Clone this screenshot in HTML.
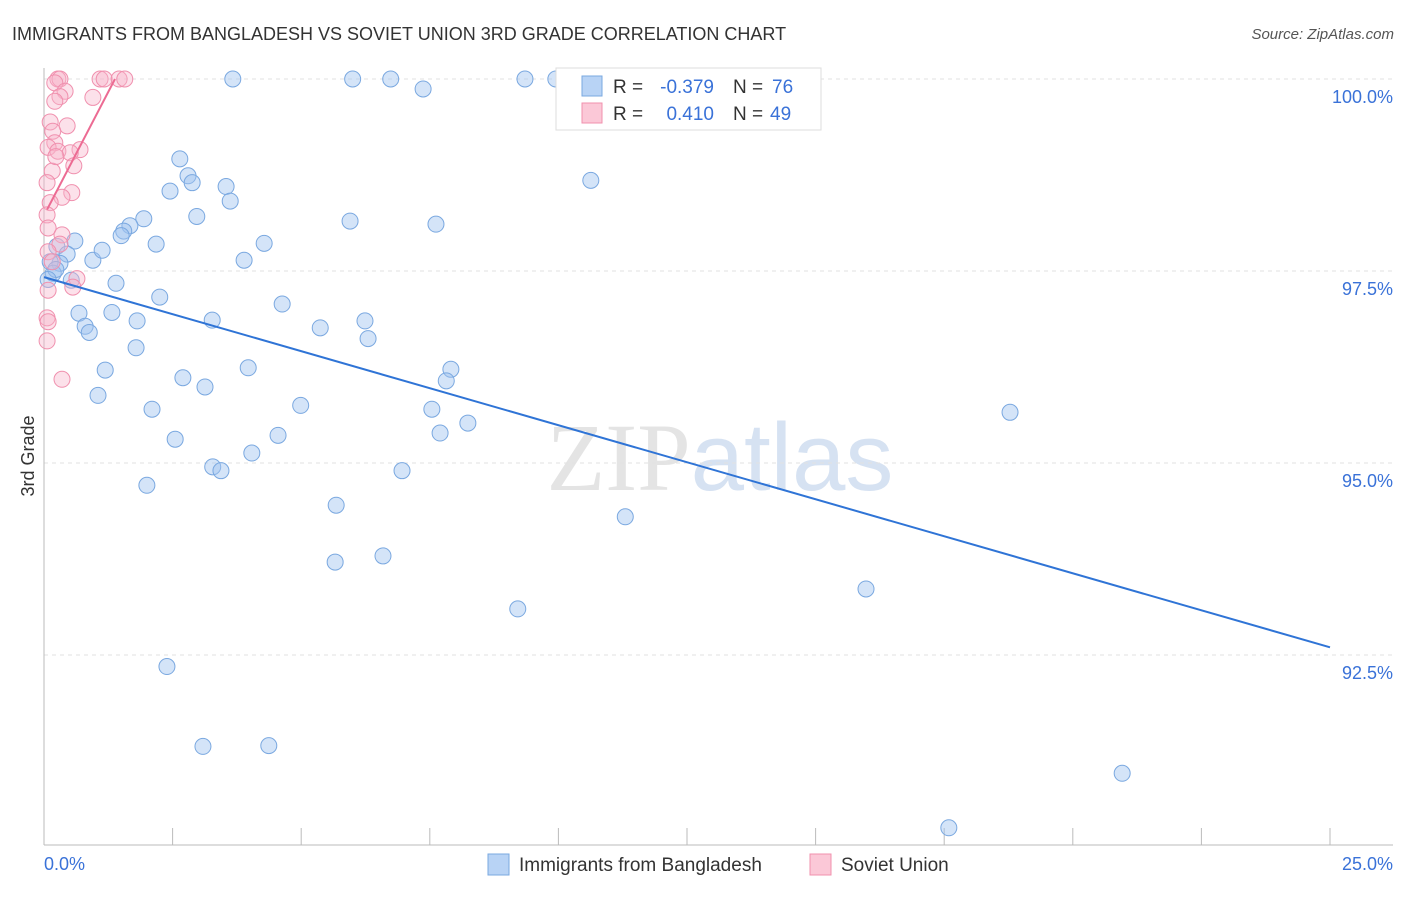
<!DOCTYPE html>
<html><head><meta charset="utf-8"><style>
body{margin:0;background:#fff;font-family:"Liberation Sans",sans-serif;}
</style></head><body>
<svg width="1406" height="892" xmlns="http://www.w3.org/2000/svg">
<text x="12" y="40" font-size="18" fill="#333">IMMIGRANTS FROM BANGLADESH VS SOVIET UNION 3RD GRADE CORRELATION CHART</text>
<text x="1394" y="39" font-size="15" fill="#555" font-style="italic" text-anchor="end">Source: ZipAtlas.com</text>
<text x="720" y="490" font-size="96" fill="#e4e4e4" text-anchor="middle" font-family="Liberation Serif">ZIP<tspan fill="#d6e2f2" font-family="Liberation Sans">atlas</tspan></text>
<g id="grid"></g><g id="axes"></g><g id="pts"></g><g id="lines"></g>
<text x="34" y="456" font-size="18" fill="#333" text-anchor="middle" transform="rotate(-90 34 456)">3rd Grade</text>
<g>
<rect x="556" y="68" width="265" height="62" fill="#fff" stroke="#ddd"/>
<rect x="582" y="76" width="20" height="20" fill="#b8d3f5" stroke="#7aa8e0"/>
<text x="613" y="93" font-size="19" fill="#333">R =</text>
<text x="714" y="93" font-size="19" fill="#3a72d8" text-anchor="end">-0.379</text>
<text x="733" y="93" font-size="19" fill="#333">N =</text>
<text x="772" y="93" font-size="19" fill="#3a72d8">76</text>
<rect x="582" y="103" width="20" height="20" fill="#fbc8d7" stroke="#f090ae"/>
<text x="613" y="120" font-size="19" fill="#333">R =</text>
<text x="714" y="120" font-size="19" fill="#3a72d8" text-anchor="end">0.410</text>
<text x="733" y="120" font-size="19" fill="#333">N =</text>
<text x="770" y="120" font-size="19" fill="#3a72d8">49</text>
</g>
<g>
<rect x="488" y="854" width="21" height="21" fill="#b8d3f5" stroke="#7aa8e0"/>
<text x="519" y="871" font-size="19" fill="#333">Immigrants from Bangladesh</text>
<rect x="810" y="854" width="21" height="21" fill="#fbc8d7" stroke="#f090ae"/>
<text x="841" y="871" font-size="19" fill="#333">Soviet Union</text>
</g>
</svg>
<script>
const yTicks=[100,97.5,95,92.5];
const yTickLabels=["100.0%","97.5%","95.0%","92.5%"];
const blueX=[3.67,6.0,6.74,9.35,9.95,7.37,2.64,2.8,2.88,2.45,3.54,3.62,10.63,2.97,1.94,1.67,1.55,1.5,5.95,7.62,2.18,4.28,0.6,0.25,0.45,0.95,1.13,3.89,0.31,0.12,0.18,0.53,1.4,2.25,4.63,1.32,0.68,1.81,3.27,5.37,6.24,0.8,0.88,6.3,1.79,1.19,3.97,7.91,2.7,7.82,3.13,1.05,4.99,2.1,7.54,18.78,8.24,2.55,4.55,7.7,4.04,3.28,3.44,6.96,2.0,5.68,11.3,5.66,6.59,9.21,15.98,2.39,3.09,4.37,20.96,17.59,0.23,0.08];
const blueY=[100,100,100,100,100,99.87,98.96,98.74,98.65,98.54,98.6,98.41,98.68,98.21,98.18,98.09,98.02,97.96,98.15,98.11,97.85,97.86,97.89,97.82,97.72,97.64,97.77,97.64,97.6,97.62,97.47,97.38,97.34,97.16,97.07,96.96,96.95,96.85,96.86,96.76,96.85,96.78,96.7,96.62,96.5,96.21,96.24,96.22,96.11,96.07,95.99,95.88,95.75,95.7,95.7,95.66,95.52,95.31,95.36,95.39,95.13,94.95,94.9,94.9,94.71,94.45,94.3,93.71,93.79,93.1,93.36,92.35,91.31,91.32,90.96,90.25,97.52,97.39];
const pinkX=[0.27,0.31,1.09,1.17,1.46,1.57,0.21,0.41,0.31,0.95,0.21,0.12,0.45,0.17,0.21,0.08,0.27,0.7,0.51,0.58,0.16,0.06,0.54,0.35,0.12,0.06,0.08,0.35,0.31,0.08,0.16,0.64,0.56,0.08,0.06,0.08,0.06,0.35,0.23];
const pinkY=[100,100,100,100,100,100,99.95,99.84,99.77,99.76,99.71,99.44,99.39,99.32,99.17,99.11,99.06,99.08,99.04,98.87,98.8,98.65,98.52,98.46,98.39,98.23,98.06,97.97,97.85,97.75,97.62,97.4,97.29,97.25,96.89,96.84,96.59,96.09,98.99];
const blueTrend=[[0,97.42],[25,92.6]];
const pinkTrend=[[0.06,98.3],[1.38,100]];
const X=v=>44+v*51.44, Y=v=>79+(100-v)*76.8;
const NS="http://www.w3.org/2000/svg";
function mk(t,a,p){const e=document.createElementNS(NS,t);for(const k in a)e.setAttribute(k,a[k]);document.getElementById(p).appendChild(e);return e;}
yTicks.forEach((t,i)=>{
 const l=mk('line',{x1:44,x2:1393,y1:Y(t),y2:Y(t),stroke:'#e2e2e2','stroke-dasharray':'4 4'},'grid');
 
 
 const tx=mk('text',{x:1393,y:Y(t)+24,'font-size':18,fill:'#3a72d8','text-anchor':'end'},'axes');
 tx.textContent=yTickLabels[i];
 
 
});
const ax=mk('line',{x1:44,x2:1393,y1:845,y2:845,stroke:'#bbb'},'axes');


const ay=mk('line',{x1:44,x2:44,y1:68,y2:845,stroke:'#bbb'},'axes');


for(let i=0;i<=10;i++){const t=mk('line',{x1:X(i*2.5),x2:X(i*2.5),y1:828,y2:845,stroke:'#bbb'},'axes');
 
 }
[[0,'0.0%','start',44],[25,'25.0%','end',1393]].forEach(d=>{const t=mk('text',{x:d[3],y:870,'font-size':18,fill:'#3a72d8','text-anchor':d[2]},'axes');t.textContent=d[1];
 
 });
blueX.forEach((v,i)=>{const c=mk('circle',{cx:X(v),cy:Y(blueY[i]),r:8,fill:'rgba(160,196,240,0.45)',stroke:'#7aa8e0','stroke-width':1},'pts');
 
 });
pinkX.forEach((v,i)=>{const c=mk('circle',{cx:X(v),cy:Y(pinkY[i]),r:8,fill:'rgba(248,180,202,0.4)',stroke:'#f090ae','stroke-width':1},'pts');
 
 });
const bl=mk('line',{x1:X(blueTrend[0][0]),y1:Y(blueTrend[0][1]),x2:X(blueTrend[1][0]),y2:Y(blueTrend[1][1]),stroke:'#2f74d6','stroke-width':2},'lines');


const pl=mk('line',{x1:X(pinkTrend[0][0]),y1:Y(pinkTrend[0][1]),x2:X(pinkTrend[1][0]),y2:Y(pinkTrend[1][1]),stroke:'#ec6b93','stroke-width':2},'lines');


</script>
</body></html>
